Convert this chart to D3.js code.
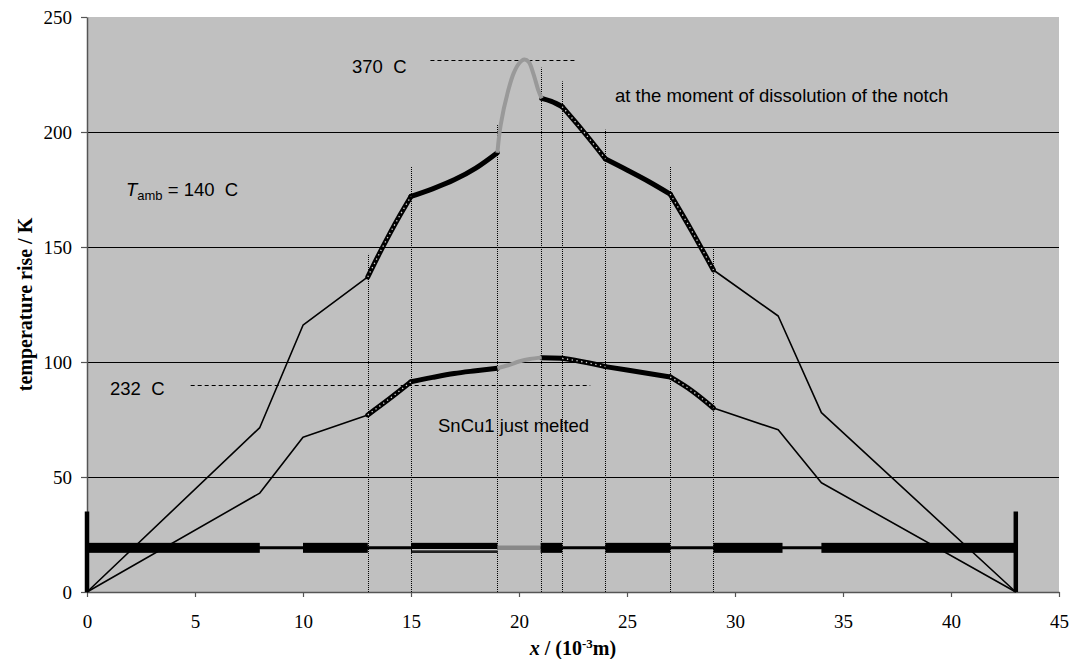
<!DOCTYPE html>
<html>
<head>
<meta charset="utf-8">
<script src="https://cdn.jsdelivr.net/npm/d3@7"></script>
<style>
  body { margin: 0; background: #fff; }
  svg text { white-space: pre; }
</style>
</head>
<body>
<div id="chart"></div>
<script>
// x ticks and y ticks
var xTicks = [0, 5, 10, 15, 20, 25, 30, 35, 40, 45];
var yTicks = [0, 50, 100, 150, 200, 250];
var gridValues = [50, 100, 150, 200];

// upper curve (at the moment of dissolution of the notch)
var upperThinLeft = [[0, 0], [8, 71.5], [10, 116], [13, 137]];
var upperThinRight = [[29, 140], [32, 120], [34, 78], [43, 0]];
var upperThick = [
  [[15, 172], [16, 175.3], [17, 179.2], [18, 184.3], [19, 191]],
  [[21.05, 214.6], [21.5, 213.3], [22, 211]],
  [[24, 188.3], [25, 183.5], [26, 178.5], [27, 173]]
];
var upperDotted = [
  [[13, 137], [13.5, 146.5], [14, 155.5], [14.5, 164], [15, 172]],
  [[22, 211], [23, 200], [24, 188.3]],
  [[27, 173], [28, 157], [29, 140]]
];
var upperGray = [[19, 191], [19.15, 203], [19.5, 218], [19.75, 225.5], [20, 229.8],
  [20.25, 231.5], [20.45, 230.5], [20.66, 225.5], [20.9, 218], [21.05, 214.6]];

// lower curve (SnCu1 just melted)
var lowerThinLeft = [[0, 0], [8, 43], [10, 67.3], [13, 77]];
var lowerThinRight = [[29, 80], [32, 70.5], [34, 47.5], [43, 0]];
var lowerThick = [
  [[15, 91.4], [16, 93.3], [17, 95], [18, 96.2], [19, 97.3]],
  [[21.05, 101.9], [22, 101.6]],
  [[24, 98], [25, 96.5], [26, 95], [27, 93.5]]
];
var lowerDotted = [
  [[13, 77], [14, 84], [15, 91.4]],
  [[22, 101.6], [23, 100], [24, 98]],
  [[27, 93.5], [28, 87.5], [29, 80]]
];
var lowerGray = [[19, 97.3], [19.5, 98.6], [20, 100.2], [20.5, 101.3], [21.05, 101.9]];

// vertical dotted section lines
var sectionX = [13, 15, 19, 21, 22, 24, 27, 29];
var sectionTop = [147, 185, 203, 228, 222, 201, 185, 150];

// bottom geometry bar
var barLevel = 19.2;
var barEnds = [0, 43];
var barPostTop = 35;
var thickBars = [[0, 8], [10, 13], [21, 22], [24, 27], [29, 32.2], [34, 43]];
var doubleBar = [15, 19];
var grayBar = [19, 21];

// reference temperatures
var melt370 = { y: 231.3, x0: 15.9, x1: 22.6, label: '370  C' };
var melt232 = { y: 90, x0: 4.8, x1: 23.3, label: '232  C' };

var W = 1072, H = 659;
var margin = { left: 87, right: 13, top: 17, bottom: 67 };

var svg = d3.select('#chart').append('svg')
  .attr('width', W)
  .attr('height', H);

var x = d3.scaleLinear().domain([0, 45]).range([margin.left, W - margin.right]);
var y = d3.scaleLinear().domain([0, 250]).range([H - margin.bottom, margin.top]);

// plot area
svg.append('rect')
  .attr('x', x(0)).attr('y', y(250))
  .attr('width', x(45) - x(0)).attr('height', y(0) - y(250))
  .attr('fill', '#c0c0c0');

svg.append('g').selectAll('line')
  .data(gridValues)
  .enter().append('line')
  .attr('x1', x(0)).attr('x2', x(45))
  .attr('y1', function (d) { return y(d) + 0.5; })
  .attr('y2', function (d) { return y(d) + 0.5; })
  .attr('stroke', '#000').attr('stroke-width', 1);

// axes
var serif = '"Liberation Serif", "Times New Roman", serif';
var sans = '"Liberation Sans", Arial, sans-serif';

var yAxis = svg.append('g')
  .attr('transform', 'translate(' + x(0) + ',0)')
  .call(d3.axisLeft(y).tickValues(yTicks).tickSize(6).tickPadding(9).tickSizeOuter(0));
var xAxis = svg.append('g')
  .attr('transform', 'translate(0,' + y(0) + ')')
  .call(d3.axisBottom(x).tickValues(xTicks).tickSize(5).tickPadding(18).tickSizeOuter(0));

[yAxis, xAxis].forEach(function (ax) {
  ax.select('.domain').attr('stroke', '#555').attr('stroke-width', 1.5);
  ax.selectAll('.tick line').attr('stroke', '#555').attr('stroke-width', 1.2);
  ax.selectAll('.tick text')
    .attr('fill', '#000')
    .style('font-family', serif)
    .style('font-size', '19px');
});

// section lines
svg.append('g').selectAll('line')
  .data(sectionX)
  .enter().append('line')
  .attr('x1', function (d) { return Math.round(x(d)) + 0.5; })
  .attr('x2', function (d) { return Math.round(x(d)) + 0.5; })
  .attr('y1', y(0))
  .attr('y2', function (d, i) { return y(sectionTop[i]); })
  .attr('stroke', '#000')
  .attr('stroke-width', 1)
  .attr('stroke-dasharray', '1,1');

// reference dashed lines
[melt370, melt232].forEach(function (m) {
  svg.append('line')
    .attr('x1', x(m.x0)).attr('x2', x(m.x1))
    .attr('y1', Math.round(y(m.y)) + 0.5).attr('y2', Math.round(y(m.y)) + 0.5)
    .attr('stroke', '#000').attr('stroke-width', 1)
    .attr('stroke-dasharray', '4,3');
});

// curves
var line = d3.line()
  .x(function (d) { return x(d[0]); })
  .y(function (d) { return y(d[1]); });
var soft = d3.line()
  .x(function (d) { return x(d[0]); })
  .y(function (d) { return y(d[1]); })
  .curve(d3.curveMonotoneX);
var smooth = d3.line()
  .x(function (d) { return x(d[0]); })
  .y(function (d) { return y(d[1]); })
  .curve(d3.curveCatmullRom);

function drawPath(gen, pts, stroke, width, dash) {
  var p = svg.append('path')
    .attr('d', gen(pts))
    .attr('fill', 'none')
    .attr('stroke', stroke)
    .attr('stroke-width', width)
    .attr('stroke-linejoin', 'round');
  if (dash) p.attr('stroke-dasharray', dash);
  return p;
}

[upperThinLeft, upperThinRight, lowerThinLeft, lowerThinRight].forEach(function (pts) {
  drawPath(line, pts, '#000', 1.6);
});
upperThick.concat(lowerThick).forEach(function (pts) {
  drawPath(soft, pts, '#000', 5).attr('stroke-linecap', 'round');
});
upperDotted.concat(lowerDotted).forEach(function (pts) {
  drawPath(soft, pts, '#000', 5).attr('stroke-linecap', 'round');
  drawPath(soft, pts, '#d8d8d8', 1.3, '1.3,3.5');
});
[upperGray, lowerGray].forEach(function (pts) {
  drawPath(smooth, pts, '#999', 4);
});

// bottom bar
var barY = y(barLevel);
svg.append('line')
  .attr('x1', x(barEnds[0])).attr('x2', x(barEnds[1]))
  .attr('y1', barY).attr('y2', barY)
  .attr('stroke', '#000').attr('stroke-width', 3);

svg.append('g').selectAll('rect')
  .data(thickBars)
  .enter().append('rect')
  .attr('x', function (d) { return x(d[0]); })
  .attr('width', function (d) { return x(d[1]) - x(d[0]); })
  .attr('y', barY - 5).attr('height', 10)
  .attr('fill', '#000');

svg.append('rect')
  .attr('x', x(doubleBar[0])).attr('width', x(doubleBar[1]) - x(doubleBar[0]))
  .attr('y', barY - 5).attr('height', 10)
  .attr('fill', '#000');
svg.append('rect')
  .attr('x', x(doubleBar[0]) + 1).attr('width', x(doubleBar[1]) - x(doubleBar[0]) - 1)
  .attr('y', barY + 1.3).attr('height', 1.4)
  .attr('fill', '#e8e8e8');
svg.append('rect')
  .attr('x', x(doubleBar[0]) + 1).attr('width', x(doubleBar[1]) - x(doubleBar[0]) - 1)
  .attr('y', barY + 2.7).attr('height', 2.3)
  .attr('fill', '#222');

svg.append('line')
  .attr('x1', x(grayBar[0])).attr('x2', x(grayBar[1]))
  .attr('y1', barY).attr('y2', barY)
  .attr('stroke', '#888').attr('stroke-width', 4.5);

svg.append('g').selectAll('line')
  .data(barEnds)
  .enter().append('line')
  .attr('x1', function (d) { return x(d); })
  .attr('x2', function (d) { return x(d); })
  .attr('y1', y(0)).attr('y2', y(barPostTop))
  .attr('stroke', '#000').attr('stroke-width', 4.5);

// annotations
function label(px, py, txt) {
  return svg.append('text')
    .attr('x', px).attr('y', py)
    .style('font-family', sans)
    .style('font-size', '18.5px')
    .attr('fill', '#000')
    .text(txt);
}
label(352, 73, melt370.label);
label(110, 395, melt232.label);
label(615, 102, 'at the moment of dissolution of the notch');
label(438, 432, 'SnCu1 just melted');

var tamb = svg.append('text')
  .attr('x', 126).attr('y', 196)
  .style('font-family', sans)
  .style('font-size', '18.5px');
tamb.append('tspan').style('font-style', 'italic').text('T');
tamb.append('tspan').attr('dy', 4).style('font-size', '13px').text('amb');
tamb.append('tspan').attr('dy', -4).text(' = 140  C');

// axis titles
svg.append('text')
  .attr('transform', 'translate(32,' + ((y(0) + y(250)) / 2) + ') rotate(-90)')
  .attr('text-anchor', 'middle')
  .style('font-family', serif)
  .style('font-size', '20px')
  .style('font-weight', 'bold')
  .text('temperature rise / K');

var xt = svg.append('text')
  .attr('x', (x(0) + x(45)) / 2)
  .attr('y', 655)
  .attr('text-anchor', 'middle')
  .style('font-family', serif)
  .style('font-size', '20px')
  .style('font-weight', 'bold');
xt.append('tspan').style('font-style', 'italic').text('x');
xt.append('tspan').text(' / (10');
xt.append('tspan').attr('dy', -7).style('font-size', '13px').text('-3');
xt.append('tspan').attr('dy', 7).text('m)');
</script>
</body>
</html>
